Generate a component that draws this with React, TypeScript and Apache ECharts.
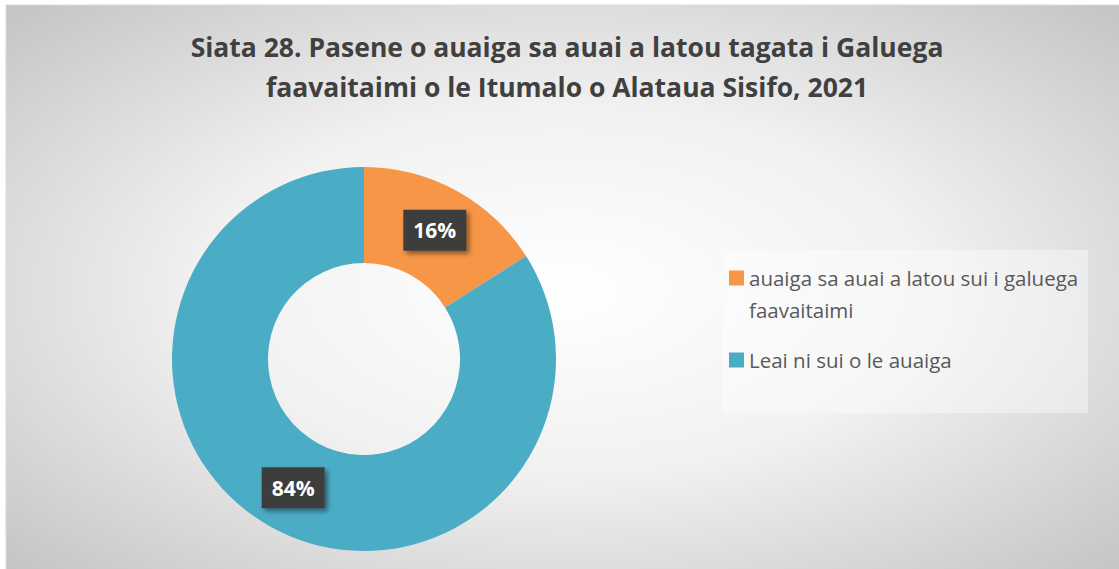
import React, { useEffect, useRef } from "react";
import * as echarts from "echarts";

const titleText =
  "Siata 28. Pasene o auaiga sa auai a latou tagata i Galuega\nfaavaitaimi o le Itumalo o Alataua Sisifo, 2021";
const categories = [
  "auaiga sa auai a latou sui i galuega faavaitaimi",
  "Leai ni sui o le auaiga",
];
const values = [16, 84];
const colors = ["#F79646", "#4BACC6"];

export default function App() {
  const ref = useRef<HTMLDivElement>(null);
  useEffect(() => {
    if (!ref.current) return;
    const chart = echarts.init(ref.current, null, { renderer: "svg" });
    chart.setOption({
      animation: false,
      title: {
        text: titleText,
        left: 567,
        textAlign: "center",
        top: 27,
        padding: 0,
        textStyle: {
          fontFamily: "Open Sans",
          fontWeight: "bold",
          fontSize: 26.5,
          lineHeight: 40,
          color: "#404040",
        },
      },
      graphic: [
        {
          type: "rect",
          z: -10,
          silent: true,
          shape: { x: 6, y: 5, width: 1120, height: 570 },
          style: {
            fill: {
              type: "radial",
              x: 0.5,
              y: 0.5,
              r: 0.72,
              colorStops: [
                { offset: 0, color: "#ffffff" },
                { offset: 0.45, color: "#f1f1f1" },
                { offset: 1, color: "#c2c2c2" },
              ],
            },
            stroke: "#d9d9d9",
            lineWidth: 1,
          },
        },
        {
          type: "rect",
          z: -5,
          silent: true,
          shape: { x: 722, y: 250, width: 366, height: 163 },
          style: { fill: "rgba(255,255,255,0.4)" },
        },
      ],
      color: colors,
      legend: {
        orient: "vertical",
        left: 729,
        top: 230,
        padding: 0,
        itemGap: 18,
        itemWidth: 15,
        itemHeight: 15,
        icon: "rect",
        data: categories,
        formatter: (name: string) => (name.length > 30 ? "\n" + name : name),
        textStyle: {
          fontFamily: "Open Sans",
          fontSize: 20.5,
          lineHeight: 32,
          color: "#595959",
          width: 350,
          overflow: "break",
        },
        itemStyle: { borderWidth: 0 },
      },
      series: [
        {
          type: "pie",
          center: [364, 359],
          radius: [96, 192],
          startAngle: 90,
          clockwise: true,
          percentPrecision: 0,
          avoidLabelOverlap: false,
          itemStyle: { borderWidth: 0 },
          emphasis: { disabled: true },
          label: {
            show: true,
            position: "inside",
            formatter: "{d}%",
            fontFamily: "Open Sans",
            fontWeight: "bold",
            fontSize: 21,
            lineHeight: 23,
            color: "#ffffff",
            backgroundColor: "#3d3d3d",
            padding: [9, 10, 9, 10],
            shadowColor: "rgba(0,0,0,0.45)",
            shadowBlur: 5,
            shadowOffsetX: 3,
            shadowOffsetY: 3,
          },
          labelLine: { show: false },
          data: categories.map((c, i) => ({ name: c, value: values[i] })),
        },
      ],
    });
    return () => chart.dispose();
  }, []);
  return (
    <div
      ref={ref}
      style={{ position: "absolute", left: 0, top: 0, width: 1119, height: 569 }}
    />
  );
}
